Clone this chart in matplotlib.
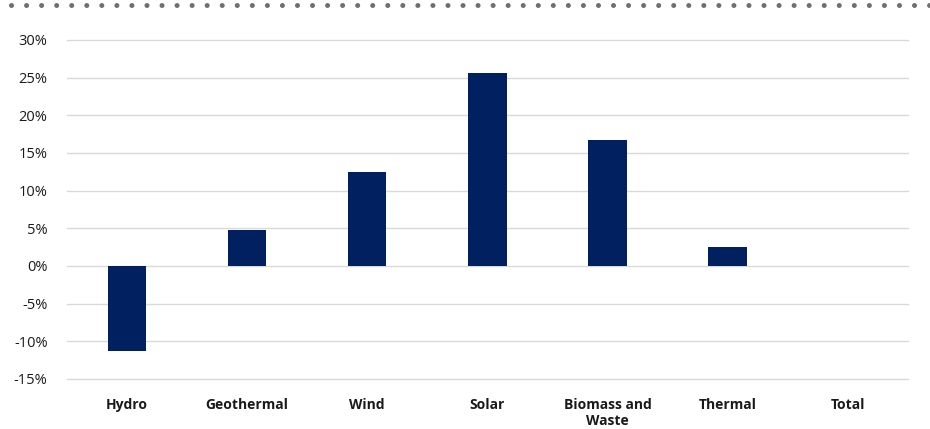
import numpy as np
import matplotlib.pyplot as plt
from matplotlib.lines import Line2D
from matplotlib.ticker import FuncFormatter

# growth by source
categories = ['Hydro', 'Geothermal', 'Wind', 'Solar', 'Biomass and\nWaste', 'Thermal', 'Total']
growth = [-11.3, 4.8, 12.5, 25.6, 16.7, 2.5, 0.0]

plt.rcParams['font.family'] = ['Open Sans', 'DejaVu Sans']

fig = plt.figure(figsize=(9.3, 4.29), dpi=100)
ax = fig.add_axes([0.072, 0.1166, 0.904, 0.7902])

x = np.arange(len(categories))
ax.bar(x, growth, width=0.32, color='#002060', zorder=3)

ax.set_xlim(-0.5, len(categories) - 0.5)
ax.set_ylim(-15, 30)
ax.set_yticks(np.arange(-15, 31, 5))
ax.yaxis.set_major_formatter(FuncFormatter(lambda v, p: f'{v:.0f}%'))
ax.grid(axis='y', color='#d9d9d9', linewidth=1, zorder=0)
for gl in ax.yaxis.get_gridlines():
    gl.set_clip_on(False)
ax.set_xticks(x)
ax.set_xticklabels(categories, fontweight='bold', fontsize=10, linespacing=1.1, va='top')
ax.tick_params(axis='y', labelsize=10.5, length=0, pad=14, colors='#1a1a1a')
ax.tick_params(axis='x', length=0, pad=14, colors='#1a1a1a')
for s in ax.spines.values():
    s.set_visible(False)

# dotted rule along the top
fig.add_artist(Line2D([11 / 930, 1.0], [1 - 5 / 429] * 2, transform=fig.transFigure,
                      color='#6f6f6f', linewidth=3.6, linestyle=(0, (0.01, 3.0)),
                      dash_capstyle='round'))

fig.savefig('out.png', dpi=100)
